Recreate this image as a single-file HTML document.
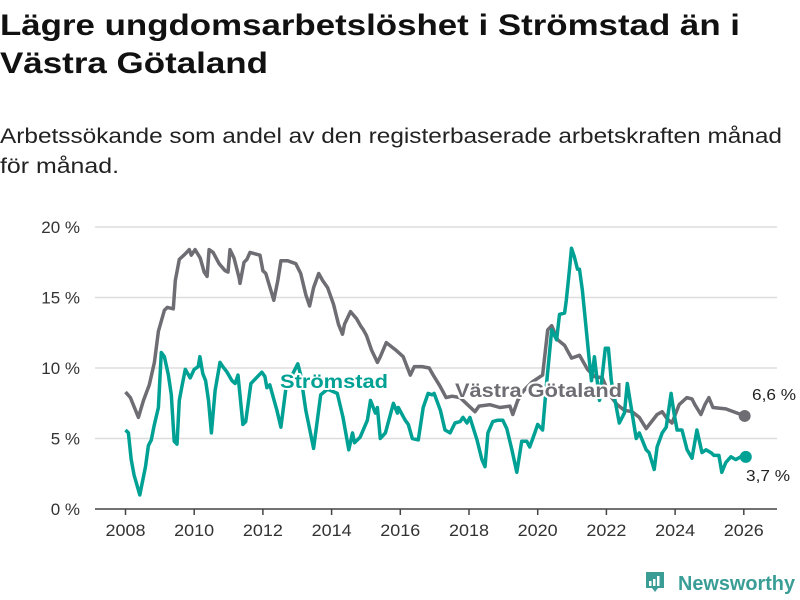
<!DOCTYPE html>
<html><head><meta charset="utf-8">
<style>
html,body{margin:0;padding:0;background:#fff;width:800px;height:600px;overflow:hidden}
svg{display:block;font-family:"Liberation Sans","DejaVu Sans",sans-serif}
</style></head>
<body>
<svg id="chart" width="800" height="600" viewBox="0 0 800 600">
<text x="0" y="35" font-size="30" font-weight="bold" fill="#111" textLength="740" lengthAdjust="spacingAndGlyphs">Lägre ungdomsarbetslöshet i Strömstad än i</text>
<text x="0" y="73" font-size="30" font-weight="bold" fill="#111" textLength="268" lengthAdjust="spacingAndGlyphs">Västra Götaland</text>
<text x="0" y="143" font-size="21" fill="#222" textLength="782" lengthAdjust="spacingAndGlyphs">Arbetssökande som andel av den registerbaserade arbetskraften månad</text>
<text x="0" y="173" font-size="21" fill="#222" textLength="119" lengthAdjust="spacingAndGlyphs">för månad.</text>
<g id="grid"></g><g id="axes"></g><g id="series"></g><g id="labels"></g>
<g>
<path d="M646 572h18v16h-6l-3 4-3-4h-6z" fill="#3a9e96"/>
<rect x="649" y="581" width="2.5" height="5" fill="#fff"/><rect x="653" y="579" width="2.5" height="7" fill="#fff"/><rect x="657" y="576" width="2.5" height="10" fill="#fff"/>
<text x="678" y="590" font-size="20" font-weight="bold" fill="#3a9e96" textLength="117" lengthAdjust="spacingAndGlyphs">Newsworthy</text>
</g>
</svg>
<script>
// months since Jan 2008, values in %
const vgMonths=[0,1.7,4.5,6.3,8.3,10.1,11.5,13.6,14.6,16.7,17.4,18.8,20.9,22.3,23,24.3,26.1,27.5,28.5,29.2,30.6,32.7,34.8,35.8,36.5,37.9,39.7,40,41.4,42.4,43.5,47,48,49,51.8,53.2,54.3,56.7,59.5,61.2,63,64.3,65.7,67.5,68.9,70.6,72.7,74.4,75.8,76.5,78.6,80.7,82.1,83.1,84.2,85.9,88,89,91.1,94.3,97,99.5,100.9,103.6,106.1,107.5,109.9,112,114.1,116.9,122.1,123.5,127.3,130.8,134.3,135.3,137,139.1,142,145.7,147.5,148.9,151,153.4,155.8,158.6,161.4,163.8,166.6,169,171.8,174.3,177,179.5,181.9,185.7,187.5,189.2,190.9,193.4,196.1,197.9,198.9,201,202.4,203.8,205.2,209.7,216.3];
const vgValues=[8.3,7.9,6.5,7.7,8.8,10.4,12.6,14.1,14.3,14.2,16.2,17.7,18.1,18.4,18,18.4,17.8,16.8,16.5,18.4,18.2,17.4,16.9,16.8,18.4,17.8,16.4,16.0,17.5,17.7,18.2,18,16.9,16.7,14.8,16.2,17.6,17.6,17.4,16.7,15.2,14.4,15.7,16.7,16.2,15.7,14.5,13.1,12.4,13.1,14,13.5,13.0,12.7,12.3,11.3,10.4,10.8,11.8,11.3,10.8,9.5,10.1,10.1,10.0,9.5,8.7,7.9,8.0,7.9,6.9,7.3,7.4,7.2,7.3,6.7,7.7,8.4,9.0,9.5,12.7,13.0,12.0,11.6,10.7,10.9,9.9,9.4,9.3,8.1,7.4,7.0,6.9,6.5,5.7,6.7,6.9,6.4,6.1,7.4,7.9,7.8,7.4,6.7,7.4,7.9,7.2,7.1,6.6];
const stMonths=[0,1,2,3,5,7,8,9,10,11.5,12.5,13.6,15,16,17,18,18.8,19.8,20.9,22.6,24,25.4,26,27,28,29,30,31.3,33,34,35.5,37.2,38.3,39.3,41,42,43.8,47.6,48.7,49.4,50.4,52.9,54.3,56,57.7,60.2,61.2,63,65.7,68.2,70.6,74,76,78,79.3,80,82,84.5,85.6,87.3,88,89,90.8,93.6,95,95.3,97.7,98.8,100.2,102.3,104,105.7,107.1,107.8,110,111.6,113.4,115.1,116.9,117.9,119.3,120.3,122.8,124.5,125.6,126.6,128.3,130.1,131.8,133.2,135,136.7,138.4,140.2,141.2,143,144,145.7,147,148.9,150.6,151.6,153.4,154,155.1,155.8,156.8,157.9,158.6,159.6,162,162.8,163.8,165.6,167.6,168.7,169.7,172.5,174.3,175.3,178.4,179.5,181.9,182.9,184.7,185.7,187.5,188.9,190.6,191.6,192.7,194.4,196.2,197.9,199.6,201.4,202.8,204.5,205.6,207.3,208.3,209.7,211.5,213.2,214.9,216.7];
const stValues=[5.6,5.4,3.5,2.4,1.0,3.0,4.5,4.9,5.9,7.2,11.1,10.8,9.5,8.1,4.8,4.6,7.7,8.8,9.9,9.3,9.9,10.1,10.8,9.6,9.1,7.7,5.4,8.4,10.4,10.1,9.7,9.1,8.9,9.5,6.0,6.2,8.9,9.7,9.4,8.6,8.8,7.0,5.8,8.5,9.3,10.3,9.5,7.0,4.3,8.1,8.5,8.2,6.5,4.2,5.4,4.7,5.1,6.3,7.7,6.8,7.2,5.0,5.4,7.5,6.8,7.2,6.3,6.0,5.0,4.9,7.2,8.2,8.1,8.2,7.0,5.6,5.4,6.1,6.2,6.5,6.1,6.5,4.9,3.5,3.0,5.4,6.2,6.3,6.3,5.7,4.2,2.6,4.8,4.8,4.4,5.4,6.0,5.6,8.7,12.7,12.0,13.8,13.9,14.8,17.0,18.5,17.9,17.0,17.0,15.5,10.6,9.1,10.8,7.7,11.4,11.4,9.1,6.1,6.8,8.9,5.0,5.4,4.2,4.0,2.8,4.4,5.4,5.8,8.2,6.8,5.6,5.6,4.2,3.6,5.6,4.0,4.2,4.0,3.8,3.8,2.6,3.3,3.7,3.5,3.7,3.7];
const yTicks=[0,5,10,15,20];
const yTickLabels=["0 %","5 %","10 %","15 %","20 %"];
const xTicks=[2008,2010,2012,2014,2016,2018,2020,2022,2024,2026];

const NS="http://www.w3.org/2000/svg";
const x=yr=>125.5+(yr-2008)*34.35;
const xm=m=>x(2008+m/12);
const y=v=>509-v*14.1;
function mk(tag,attrs,parent){const e=document.createElementNS(NS,tag);for(const k in attrs)e.setAttribute(k,attrs[k]);parent.appendChild(e);return e;}
const grid=document.getElementById('grid'),axes=document.getElementById('axes'),series=document.getElementById('series'),labels=document.getElementById('labels');
yTicks.forEach((t,i)=>{
  if(t>0){const l=mk('line',{x1:95,x2:777,y1:y(t),y2:y(t),stroke:'#ddd','stroke-width':1.5},grid);
  
  }
  const tx=mk('text',{x:80,y:y(t)+6,'text-anchor':'end','font-size':17,fill:'#333'},axes);tx.textContent=yTickLabels[i];
  
  
});
const ax=mk('line',{x1:95,x2:777,y1:509,y2:509,stroke:'#444','stroke-width':1.5},axes);


xTicks.forEach(t=>{
  mk('line',{x1:x(t),x2:x(t),y1:509,y2:515,stroke:'#444','stroke-width':1.5},axes);
  const tx=mk('text',{x:x(t),y:536,'text-anchor':'middle','font-size':17,fill:'#333',textLength:40,lengthAdjust:'spacingAndGlyphs'},axes);tx.textContent=t;
  
  
});
function line(ms,vs,color,name){
  const d=ms.map((m,i)=>(i?'L':'M')+xm(m).toFixed(1)+' '+y(vs[i]).toFixed(1)).join(' ');
  const p=mk('path',{d:d,fill:'none',stroke:color,'stroke-width':3.5,'stroke-linejoin':'round'},series);
  
  
  const c=mk('circle',{cx:xm(ms[ms.length-1]),cy:y(vs[vs.length-1]),r:6,fill:color},series);
  
  
}
line(vgMonths,vgValues,'#6e6d73','vastra-gotaland-line');
line(stMonths,stValues,'#00a195','stromstad-line');
function lbl(tx,xx,yy,col,size,bold,name,len){
  const a={x:xx,y:yy,'font-size':size,'font-weight':bold?'bold':'normal',fill:col,stroke:'#fff','stroke-width':4,'paint-order':'stroke','stroke-linejoin':'round'};
  if(len){a.textLength=len;a.lengthAdjust='spacingAndGlyphs';}
  const t=mk('text',a,labels);t.textContent=tx;
  
  
}
lbl('Strömstad',280,388,'#00a195',19,true,'stromstad-label',108);
lbl('Västra Götaland',455,397,'#6e6d73',19,true,'vastra-gotaland-label',167);
lbl(String(vgValues[vgValues.length-1]).replace('.',',')+' %',752,400,'#222',16,false,'vastra-gotaland-end-value',44);
lbl(String(stValues[stValues.length-1]).replace('.',',')+' %',746,481,'#222',16,false,'stromstad-end-value',44);
</script>
</body></html>
